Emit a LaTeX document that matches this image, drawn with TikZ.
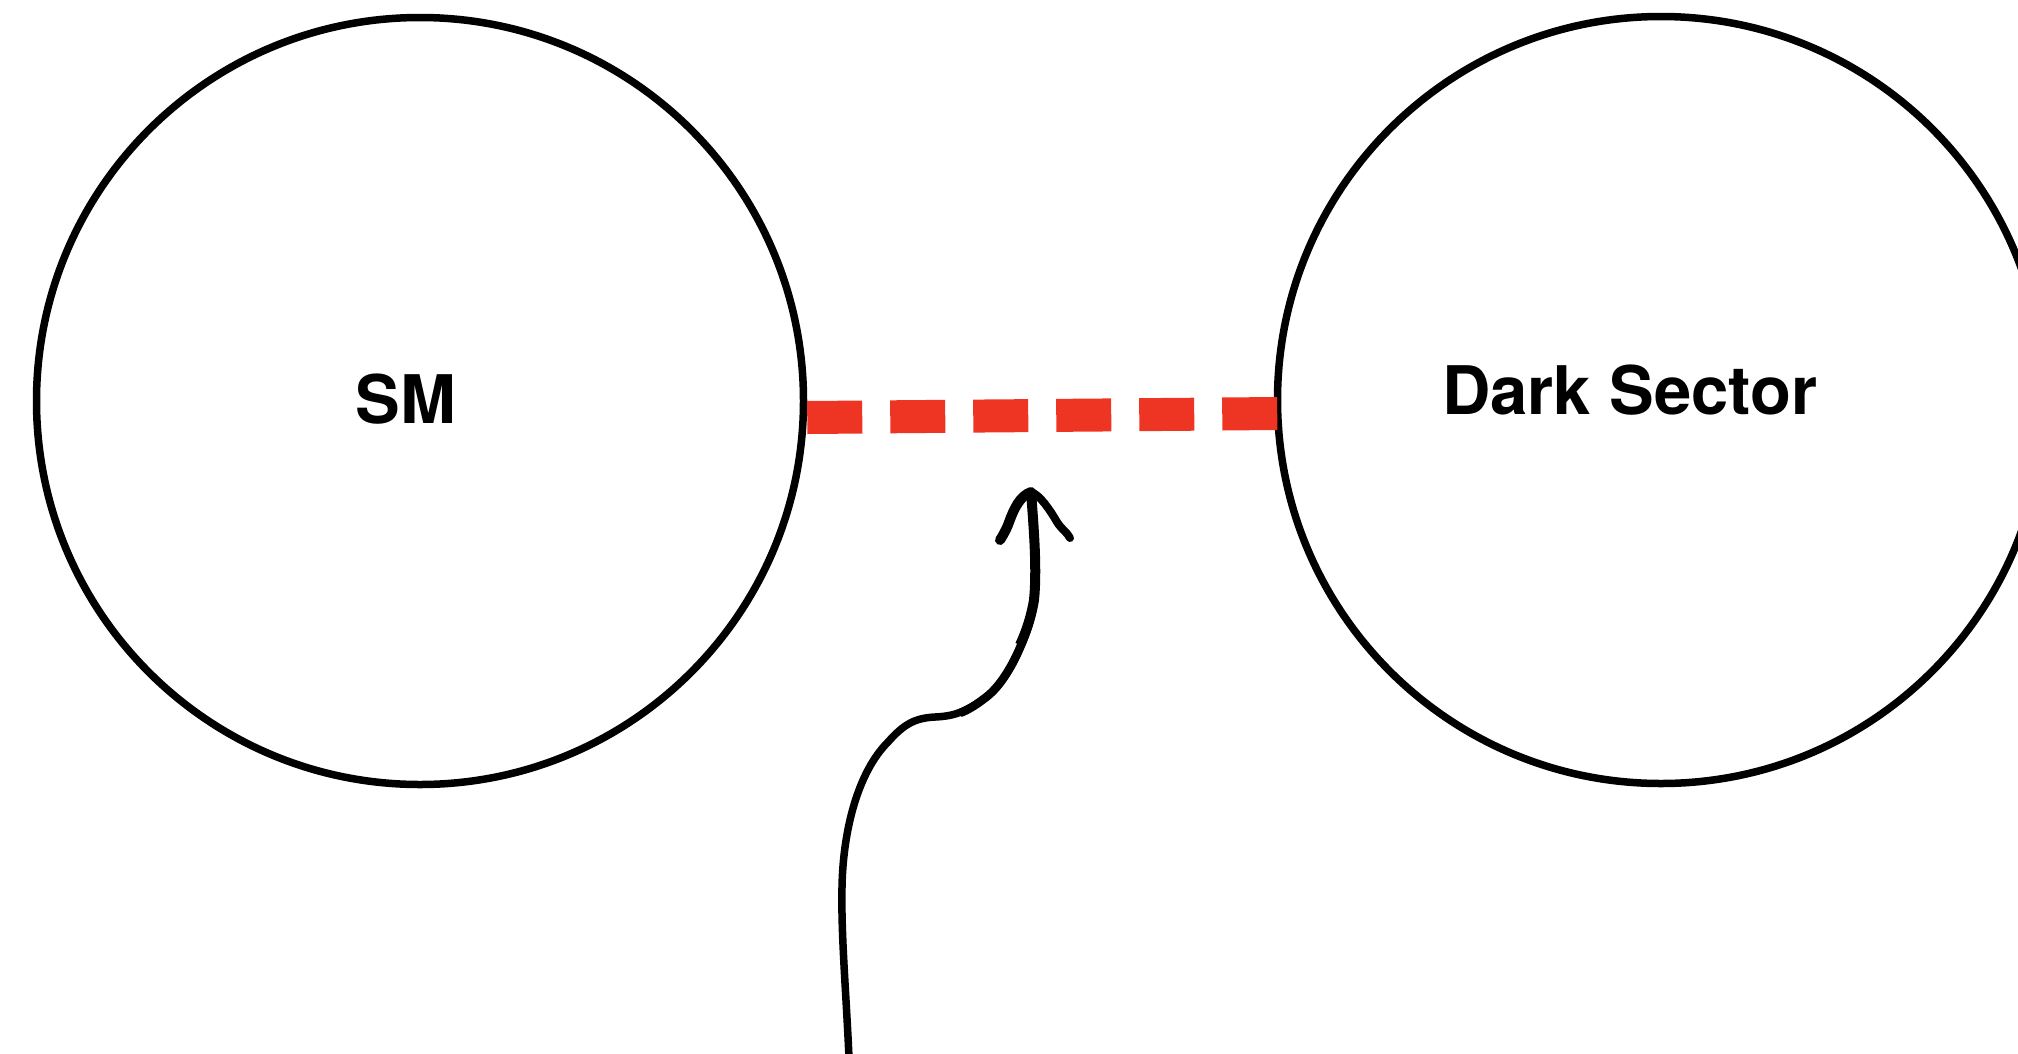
\documentclass[tikz,border=0pt]{standalone}
\usepackage{fontspec}
\setmainfont{TeX Gyre Heros}
\definecolor{linkred}{HTML}{EE3524}
\tikzset{
  sector/.style={circle, draw=black, line width=7.5pt, minimum size=767pt, inner sep=0pt},
  sectorlabel/.style={font=\bfseries\fontsize{67}{67}\selectfont, inner sep=0pt, anchor=base},
  portal/.style={draw=linkred, line width=33pt, dash pattern=on 55pt off 28pt},
  hand/.style={draw=black, line cap=round, line join=round},
  handover/.style={draw=black, line cap=butt, line join=round}
}
\begin{document}
\begin{tikzpicture}[x=1pt, y=-1pt]
\useasboundingbox (0,0) rectangle (2018,1053);
\clip (0,0) rectangle (2018,1053);
\node[sector] (sm) at (420,401) {};
\node[sector] (ds) at (1661,400) {};
\node[sectorlabel] (smtext) at (406,423) {SM};
\node[sectorlabel, anchor=base west] (dstext) at (1442,414) {Dark Sector};
\draw[portal] ([yshift=-16.5pt]sm.east) -- ([xshift=4pt,yshift=-13.5pt]ds.west);
\coordinate (arrowstart) at (849,1058);
\coordinate (arrowtip) at (1031,492);
\draw[hand, line width=7.5pt] (arrowstart)
  .. controls (846,990) and (841,935) .. (842,887)
  .. controls (843,830) and (858,772) .. (888,742)
  .. controls (904,724) and (915,718) .. (935,717)
  .. controls (955,716) and (965,712) .. (985,698)
  .. controls (1010,680) and (1030,630) .. (1034,600)
  .. controls (1037,570) and (1034,530) .. (arrowtip);
\draw[handover, line width=8.5pt] (960,713)
  .. controls (968,710) and (976,705) .. (985,698)
  .. controls (1010,680) and (1030,630) .. (1034,600)
  .. controls (1037,570) and (1034,530) .. (arrowtip);
\draw[handover, line width=10pt] (1020,645)
  .. controls (1028,628) and (1032,612) .. (1034,600)
  .. controls (1037,570) and (1034,530) .. (arrowtip);
\draw[hand, line width=10pt] (arrowtip)
  .. controls (1020,496) and (1014,508) .. (1008,525)
  .. controls (1005,532) and (1002,537) .. (1000,540);
\draw[hand, line width=8pt] (arrowtip)
  .. controls (1040,495) and (1050,510) .. (1057,522)
  .. controls (1062,530) and (1067,532) .. (1070,538);
\end{tikzpicture}
\end{document}
